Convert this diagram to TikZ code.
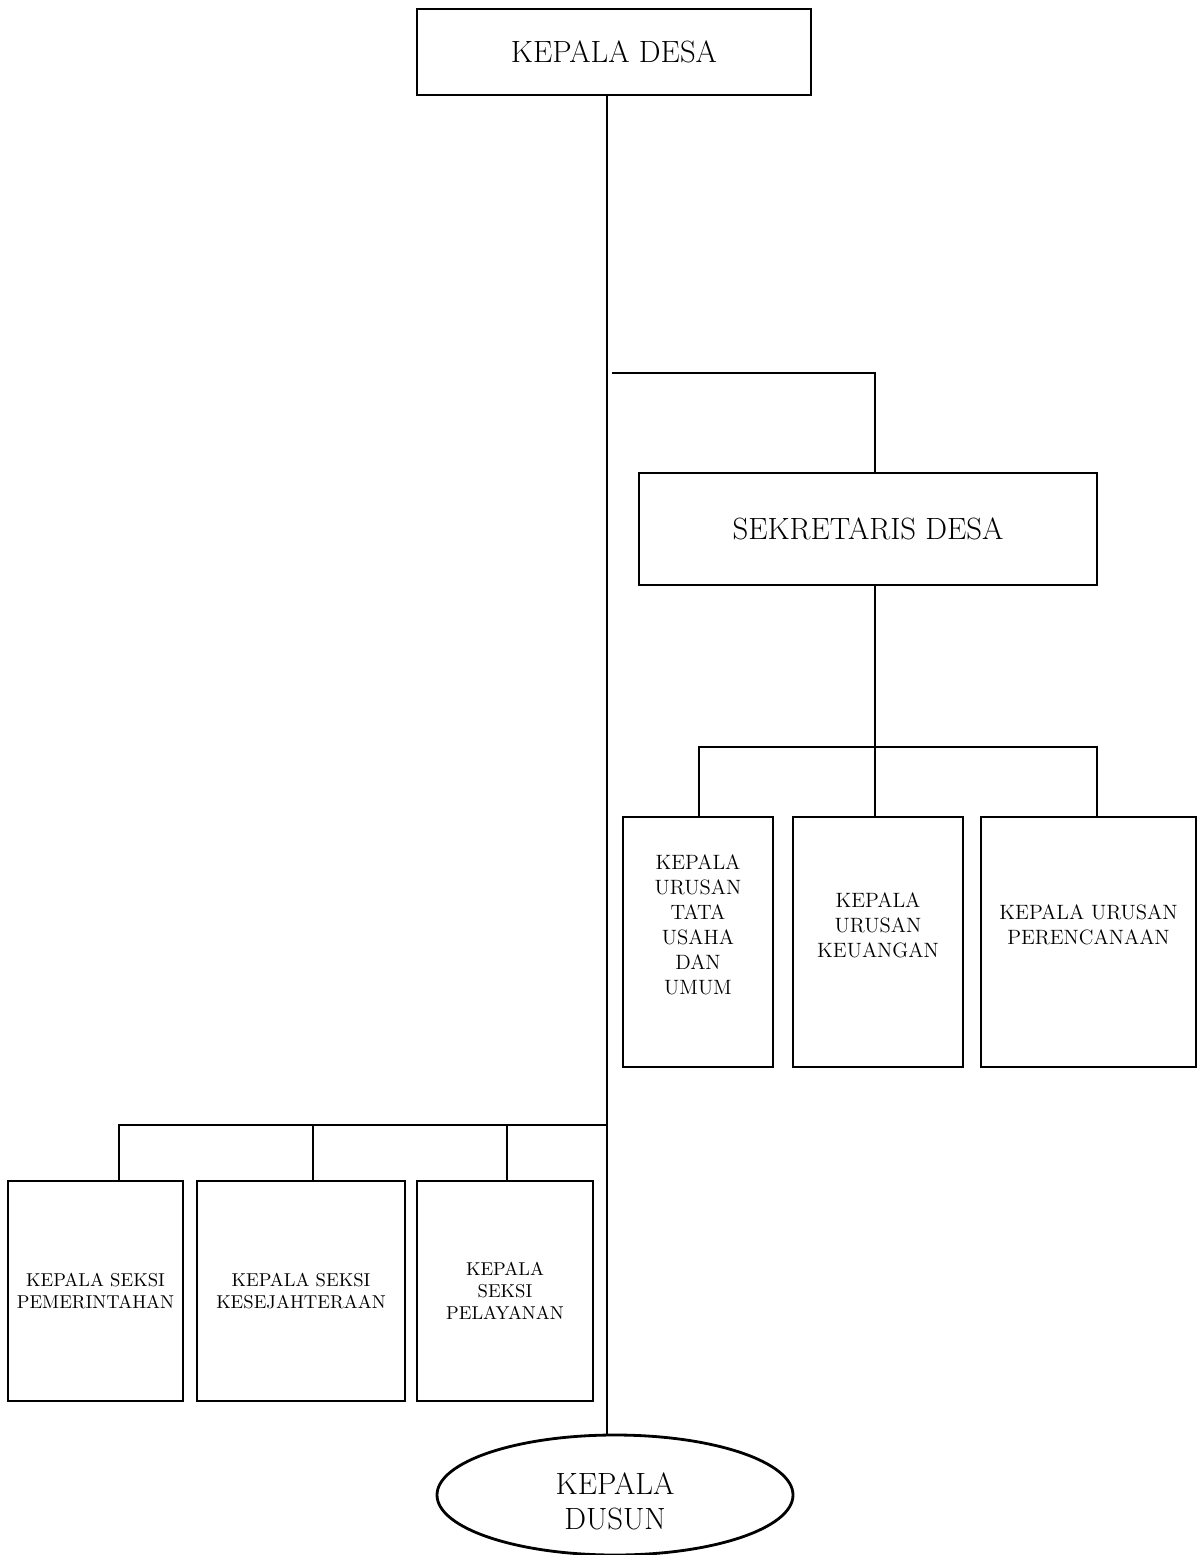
\documentclass[tikz,border=0pt]{standalone}
\usetikzlibrary{shapes.geometric,calc,positioning}

\begin{document}
\begin{tikzpicture}
[x=0.2mm,y=-0.2mm,
box/.style = {draw, rectangle, line width=1.6pt, inner sep=0pt, align=center},
oval/.style = {draw, ellipse, line width=1.6pt, inner sep=0pt, align=center},
link/.style = {line width=0.75pt},]
\useasboundingbox (0,0) rectangle (1198,1555);
\node (kades) at (614,52)[box,minimum width=78.8mm,minimum height=17.2mm,font=\fontsize{17.5}{21}\selectfont] {KEPALA DESA};
\node (sekdes) at (868,529)[box,minimum width=91.6mm,minimum height=22.4mm,font=\fontsize{17.5}{21}\selectfont] {SEKRETARIS DESA};
\node (kaurtu) at (698,942)[box,minimum width=30mm,minimum height=50mm,font=\fontsize{11.8}{14.2}\selectfont] {KEPALA\\URUSAN\\TATA\\USAHA\\DAN\\UMUM\\[0.45em]};
\node (kaurkeu) at (878,942)[box,minimum width=34mm,minimum height=50mm,font=\fontsize{11.8}{14.2}\selectfont] {KEPALA\\URUSAN\\KEUANGAN\\[0.45em]};
\node (kaurren) at (1088.5,942)[box,minimum width=43mm,minimum height=50mm,font=\fontsize{11.8}{14.2}\selectfont] {KEPALA URUSAN\\PERENCANAAN\\[0.45em]};
\node (kasipem) at (95.5,1291)[box,minimum width=35mm,minimum height=44mm,font=\fontsize{10.6}{12.6}\selectfont] {KEPALA SEKSI\\PEMERINTAHAN};
\node (kasikesra) at (301,1291)[box,minimum width=41.6mm,minimum height=44mm,font=\fontsize{10.6}{12.6}\selectfont] {KEPALA SEKSI\\KESEJAHTERAAN};
\node (kasipel) at (505,1291)[box,minimum width=35.2mm,minimum height=44mm,font=\fontsize{10.6}{12.6}\selectfont] {KEPALA\\SEKSI\\PELAYANAN};
\node (kadus) at (615,1495)[oval,minimum width=71.2mm,minimum height=24mm,font=\fontsize{17.5}{20}\selectfont] {\rule{0pt}{19.5pt}KEPALA\\DUSUN};
\coordinate (spine) at (607,0);
\coordinate (sekjoint) at (612,373);
\coordinate (sekdrop) at (875,0);
\coordinate (kaurbus) at (699,747);
\coordinate (kasibus) at (119,1125);
\draw[link] (kades.south -| spine) -- (kadus.north -| spine);
\draw[link] (sekjoint) -- (sekjoint -| sekdrop) -- (sekdes.north -| sekdrop);
\draw[link] (sekdes.south -| sekdrop) -- (kaurkeu.north -| sekdrop);
\draw[link] (kaurtu.north -| kaurbus) -- (kaurbus) -- ($(kaurbus)+(398,0)$) -- (kaurren.north -| 1097,0);
\draw[link] (kasipem.north -| kasibus) -- (kasibus) -- (kasibus -| spine);
\draw[link] (kasikesra.north -| 313,0) -- (kasibus -| 313,0);
\draw[link] (kasipel.north -| 507,0) -- (kasibus -| 507,0);
\end{tikzpicture}
\end{document}
